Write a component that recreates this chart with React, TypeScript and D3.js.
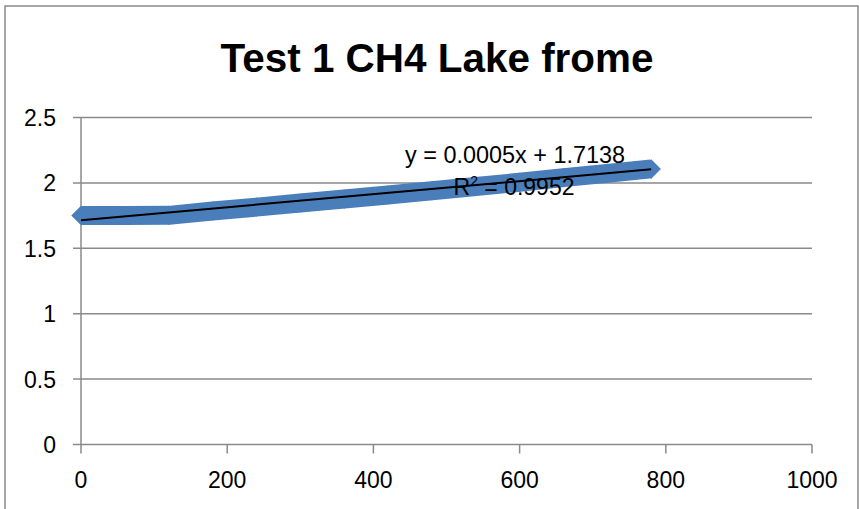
import React from "react";
import * as d3 from "d3";

// time (s) vs CH4 reading
const times = [0, 60, 120, 180, 240, 300, 360, 420, 480, 540, 600, 660, 720, 780];
const ch4 = [1.75, 1.75, 1.752, 1.785, 1.815, 1.846, 1.877, 1.908, 1.94, 1.972, 2.005, 2.04, 2.073, 2.107];
const xTicks = [0, 200, 400, 600, 800, 1000];
const yTicks = [0, 0.5, 1, 1.5, 2, 2.5];
const trendSlope = 0.0005;
const trendIntercept = 1.7138;
const chartTitle = "Test 1 CH4 Lake frome";
const eqLabel = "y = 0.0005x + 1.7138";
const r2Value = "0.9952";

const W = 859;
const H = 509;
const BLUE = "#4a7ebb";
const GRID = "#8a8a8a";
const FONT = "'Liberation Sans', Arial, sans-serif";

export default function App() {
  const x = d3.scaleLinear().domain([0, 1000]).range([81, 812]);
  const y = d3.scaleLinear().domain([0, 2.5]).range([444.5, 117.5]);

  const pts = times.map((t, i) => [t, ch4[i]] as [number, number]);
  const line = d3.line<[number, number]>()
    .x((d) => x(d[0]))
    .y((d) => y(d[1]));

  // diamond marker = square turned 45deg
  const marker = d3.symbol().type(d3.symbolSquare).size(190)();

  const tMin = d3.min(times) as number;
  const tMax = d3.max(times) as number;
  const trend: [number, number][] = [
    [tMin, trendIntercept + trendSlope * tMin],
    [tMax, trendIntercept + trendSlope * tMax],
  ];

  return (
    <svg width={W} height={H} style={{ position: "absolute", left: 0, top: 0, background: "#fff" }}>
      <rect x={5} y={6} width={853} height={540} fill="#fff" stroke={GRID} strokeWidth={1.5} />

      <text x={437} y={72} textAnchor="middle" fontFamily={FONT} fontWeight="bold" fontSize={41}
        textLength={433} lengthAdjust="spacingAndGlyphs">
        {chartTitle}
      </text>

      {/* gridlines + y ticks */}
      {yTicks.map((v) => (
        <g key={v}>
          <line x1={73} x2={x(1000)} y1={y(v)} y2={y(v)} stroke={GRID} strokeWidth={1.5} />
          <text x={56} y={y(v) + 8.5} textAnchor="end" fontFamily={FONT} fontSize={23}>
            {v}
          </text>
        </g>
      ))}
      <line x1={x(0)} x2={x(0)} y1={y(2.5)} y2={y(0)} stroke={GRID} strokeWidth={1.5} />

      {/* x ticks */}
      {xTicks.map((v) => (
        <g key={v}>
          <line x1={x(v)} x2={x(v)} y1={y(0)} y2={y(0) + 9} stroke={GRID} strokeWidth={1.5} />
          <text x={x(v)} y={488} textAnchor="middle" fontFamily={FONT} fontSize={23}>
            {v}
          </text>
        </g>
      ))}

      {/* series */}
      <path d={line(pts) || ""} fill="none" stroke={BLUE} strokeWidth={19} strokeLinejoin="round" />
      {pts.map((d, i) => (
        <path key={i} d={marker || ""} transform={`translate(${x(d[0])},${y(d[1])}) rotate(45)`} fill={BLUE} />
      ))}

      {/* trendline */}
      <path d={line(trend) || ""} fill="none" stroke="#000" strokeWidth={2} />

      <text x={515} y={163} textAnchor="middle" fontFamily={FONT} fontSize={23}
        textLength={220} lengthAdjust="spacingAndGlyphs">
        {eqLabel}
      </text>
      <text x={514} y={195} textAnchor="middle" fontFamily={FONT} fontSize={23}>
        R<tspan dy={-9} fontSize={14}>2</tspan>
        <tspan dy={9}> = {r2Value}</tspan>
      </text>
    </svg>
  );
}
